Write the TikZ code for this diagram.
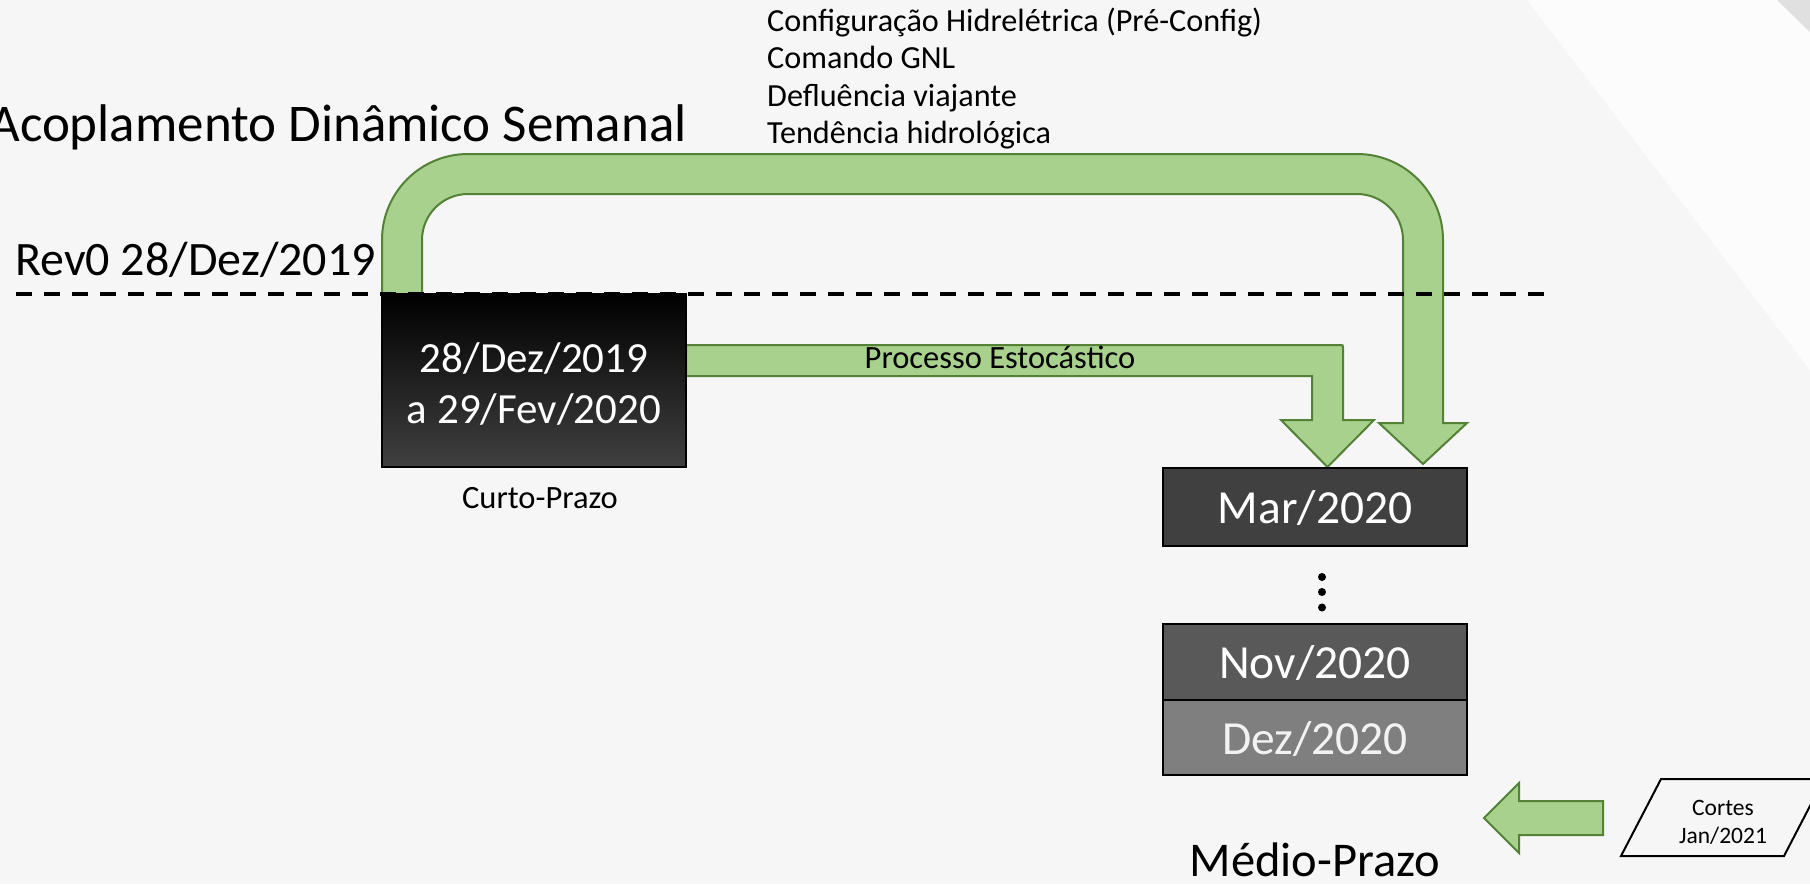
\documentclass[tikz,border=0pt]{standalone}
\usepackage{fontspec}
\setmainfont{Carlito}
\usetikzlibrary{shapes.geometric}
\definecolor{bgc}{HTML}{F6F6F6}
\definecolor{bandc}{HTML}{FCFCFC}
\definecolor{gfill}{HTML}{A9D18E}
\definecolor{gline}{HTML}{538135}
\definecolor{boxA}{HTML}{404040}
\definecolor{boxB}{HTML}{595959}
\definecolor{boxC}{HTML}{7F7F7F}
\newcommand{\fs}[1]{\fontsize{#1}{1.2\dimexpr #1pt\relax}\selectfont}
\tikzset{
  greenarrow/.style={fill=gfill, draw=gline, line width=2pt, line join=miter},
  monthbox/.style={draw=black, line width=2pt, minimum width=304pt, inner sep=0pt, text=white, font=\fs{47.5}, text height=33pt, text depth=0pt},
  plaintext/.style={inner sep=0pt, text=black},
}
\begin{document}
\begin{tikzpicture}[x=1pt,y=-1pt]
% background
\fill[bgc] (0,0) rectangle (1810,884);
\fill[bandc] (1527,0) -- (1777,0) -- (1810,32) -- (1810,370) -- cycle;
\fill[black!12] (1777,0) -- (1810,0) -- (1810,32) -- cycle;
\useasboundingbox (0,0) rectangle (1810,884);

% big arch arrow
\draw[greenarrow] (382,294) -- (382,240) .. controls (382,192.5) and (420.5,154) .. (468,154)
  -- (1357,154) .. controls (1404.5,154) and (1443,192.5) .. (1443,240)
  -- (1443,423) -- (1467,423) -- (1423,464) -- (1379,423) -- (1403,423)
  -- (1403,240) .. controls (1403,214.6) and (1382.4,194) .. (1357,194)
  -- (468,194) .. controls (442.6,194) and (422,214.6) .. (422,240) -- (422,294) -- cycle;

% processo arrow
\draw[greenarrow] (686,345) -- (1340,345) .. controls (1343,345) .. (1343,348)
  -- (1343,420) -- (1374,420) -- (1327.5,467) -- (1281,420) -- (1312,420)
  -- (1312,376) -- (686,376) -- cycle;
\node[plaintext, anchor=base, font=\fs{32.5}] (proc) at (1000,368) {Processo Estocástico};

% curto box
\node[draw=black, line width=2pt, minimum width=304pt, minimum height=173pt, inner sep=0pt,
  top color=black, bottom color=boxA] (curto) at (534,380.5) {};
\node[plaintext, text=white, align=center, font=\fs{43}] (curtotxt) at ([yshift=-3.5pt]curto.center)
  {28/Dez/2019\\[-0.6pt]a 29/Fev/2020};
\node[plaintext, anchor=base, font=\fs{32.5}] (curtolab) at (540,508) {Curto-Prazo};

% month boxes
\node[monthbox, fill=boxA, minimum height=78pt] (mar) at (1315,507) {Mar/2020};
\node[monthbox, fill=boxB, minimum height=76pt] (nov) at (1315,662) {Nov/2020};
\node[monthbox, fill=boxC, minimum height=75pt, text=white!95!black] (dez) at (1315,737.5) {Dez/2020};
\fill (1322,577) circle (4pt) (1322,592) circle (4pt) (1322,607.5) circle (4pt);
\node[plaintext, anchor=base, font=\fs{48.5}] (medio) at (1315,876) {Médio-Prazo};

% cortes
\draw[greenarrow] (1484,818) -- (1519,783) -- (1519,801) -- (1603,801) -- (1603,835) -- (1519,835) -- (1519,853) -- cycle;
\draw[black, line width=2pt] (1621,856) -- (1661,779) -- (1824,779) -- (1784,856) -- cycle;
\node[plaintext, align=center, font=\fs{23.5}] (cortes) at (1723,822) {Cortes\\Jan/2021};

% labels
\node[plaintext, anchor=base east, font=\fs{53}] (acop) at (687,141) {Acoplamento Dinâmico Semanal};
\node[plaintext, anchor=base west, font=\fs{48}] (rev) at (15,275) {Rev0 28/Dez/2019};
\node[plaintext, anchor=base west, font=\fs{32.2}] (l1) at (767,31) {Configuração Hidrelétrica (Pré-Config)};
\node[plaintext, anchor=base west, font=\fs{32.2}] (l2) at (767,68.5) {Comando GNL};
\node[plaintext, anchor=base west, font=\fs{32.2}] (l3) at (767,106) {Defluência viajante};
\node[plaintext, anchor=base west, font=\fs{32.2}] (l4) at (767,143.5) {Tendência hidrológica};

% dashed line
\coordinate (dl) at (16,294);
\coordinate (dr) at (1547,294);
\draw[black, line width=4pt, dash pattern=on 16pt off 12pt] (dl) -- (dr);
\end{tikzpicture}
\end{document}
